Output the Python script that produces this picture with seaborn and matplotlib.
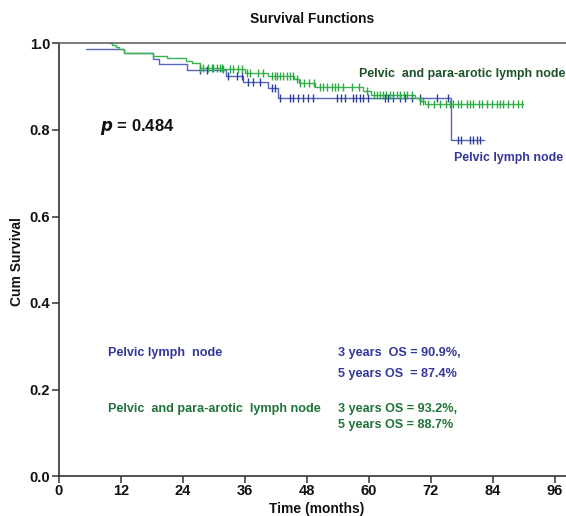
import numpy as np
import pandas as pd
import matplotlib
matplotlib.use("Agg")
import matplotlib.pyplot as plt
import seaborn as sns

# ---- data ----
pelvic_t = [5.3, 12.6, 18.3, 19.4, 24.9, 32.3, 35.7, 40.5, 42.5, 75.8, 82.2]
pelvic_s = [0.988, 0.978, 0.964, 0.952, 0.939, 0.924, 0.910, 0.896, 0.875, 0.778, 0.778]
pelvic_cens = [27.3, 28.6, 32.8, 34.4, 35.4, 36.7, 37.6, 38.9, 41.2, 41.8,
               42.8, 44.7, 45.3, 46.3, 47.3, 48.2, 49.2, 53.8, 54.7, 55.4,
               57.0, 57.6, 58.3, 58.9, 59.8, 63.1, 63.7, 64.7, 66.0, 67.0,
               68.3, 69.9, 73.1, 75.3, 77.3, 77.9, 79.6, 80.2, 80.9, 81.5]

para_t = [9.9, 10.4, 11.0, 11.6, 12.6, 18.3, 20.9, 24.6, 25.7, 27.4, 31.8,
          36.0, 40.5, 45.5, 46.5, 49.5, 58.8, 60.5, 69.0, 69.8, 70.8, 89.9]
para_s = [1.0, 0.996, 0.992, 0.988, 0.978, 0.971, 0.966, 0.960, 0.955, 0.944, 0.940,
          0.932, 0.924, 0.917, 0.908, 0.900, 0.891, 0.882, 0.874, 0.867, 0.861, 0.861]
para_cens = [27.4, 28.0, 28.9, 29.6, 29.9, 30.6, 31.2, 31.5, 31.8, 33.1, 33.8,
             34.7, 35.4, 36.4, 37.0, 38.6, 39.6, 41.2, 41.8, 42.2, 42.8, 43.4,
             44.1, 44.7, 45.4, 46.0, 46.7, 47.5, 48.5, 49.3, 50.5, 51.2, 51.8,
             52.8, 53.4, 54.1, 55.0, 56.7, 58.0, 59.6, 60.9, 61.5, 62.1, 62.8,
             63.4, 64.1, 64.7, 65.4, 66.0, 66.7, 67.3, 68.3, 69.9, 70.5, 71.5,
             72.5, 73.8, 75.0, 75.7, 76.3, 77.3, 77.9, 78.9, 79.6, 80.2, 81.2,
             81.8, 82.8, 83.8, 84.7, 85.4, 86.0, 87.0, 87.9, 88.9, 89.6]

x_ticks = [0, 12, 24, 36, 48, 60, 72, 84, 96]
y_ticks = [0.0, 0.2, 0.4, 0.6, 0.8, 1.0]

BLUE_LINE = "#5565b8"
BLUE_MARK = "#2e3c9c"
GREEN_LINE = "#38b54c"
GREEN_MARK = "#2aa845"
BLUE_TEXT = "#34379a"
GREEN_TEXT = "#1f7438"
GREEN_TEXT_TOP = "#1d5229"

sns.set_theme(style="white")
plt.rcParams["font.family"] = ["Liberation Sans", "DejaVu Sans"]

W, H = 566, 516
fig = plt.figure(figsize=(W / 100, H / 100), dpi=100)
x0, y0, y1 = 58.7, 476.0, 43.5
ax = fig.add_axes([x0 / W, (H - y0) / H, 1 - x0 / W, (y0 - y1) / H])
px_per_month = 5.17
ax.set_xlim(0, (W - x0) / px_per_month)
ax.set_ylim(0, 1.0)


def step_lookup(times, surv, t):
    idx = np.searchsorted(np.asarray(times), np.asarray(t), side="right") - 1
    return np.asarray(surv)[np.clip(idx, 0, len(surv) - 1)]


curves = pd.concat([
    pd.DataFrame({"t": pelvic_t, "s": pelvic_s, "g": "Pelvic"}),
    pd.DataFrame({"t": para_t, "s": para_s, "g": "Para"}),
])
cens = pd.concat([
    pd.DataFrame({"t": pelvic_cens, "s": step_lookup(pelvic_t, pelvic_s, pelvic_cens), "g": "Pelvic"}),
    pd.DataFrame({"t": para_cens, "s": step_lookup(para_t, para_s, para_cens), "g": "Para"}),
])

for g, col in [("Pelvic", BLUE_LINE), ("Para", GREEN_LINE)]:
    sub = curves[curves.g == g]
    sns.lineplot(data=sub, x="t", y="s", ax=ax, estimator=None, sort=False,
                 drawstyle="steps-post", color=col, linewidth=1.0, legend=False)
for g, col in [("Pelvic", BLUE_MARK), ("Para", GREEN_MARK)]:
    sub = cens[cens.g == g]
    ax.plot(sub.t, sub.s, linestyle="none", marker="|", markersize=6,
            markeredgewidth=1.0, color=col)

# axes styling
for side in ["left", "bottom"]:
    ax.spines[side].set_color("#333333")
    ax.spines[side].set_linewidth(1.2)
ax.spines["top"].set_color("#666666")
ax.spines["top"].set_linewidth(1.2)
ax.spines["right"].set_visible(False)
ax.set_xticks(x_ticks)
ax.set_yticks(y_ticks)
ax.set_yticklabels([f"{v:.1f}" for v in y_ticks])
ax.tick_params(axis="both", which="major", direction="out", length=5, width=1.1,
               color="#333333", labelsize=10.5, labelcolor="#111111", pad=1,
               bottom=True, left=True)
for lab in ax.get_xticklabels() + ax.get_yticklabels():
    lab.set_fontweight("bold")
ax.set_xlabel("")
ax.set_ylabel("")
ax.grid(False)

fig.text(312 / W, 1 - 19 / H, "Survival Functions", ha="center", va="center",
         fontsize=10, fontweight="bold", color="#111111")
fig.text(317 / W, 1 - 509 / H, "Time (months)", ha="center", va="center",
         fontsize=10, fontweight="bold", color="#111111")
fig.text(17 / W, 1 - 262 / H, "Cum Survival", ha="center", va="center",
         rotation=90, fontsize=10, fontweight="bold", color="#111111")


def fx(px):
    return px / W


def fy(py):
    return 1 - py / H


fs = 9.1
fig.text(fx(100), fy(127), r"$\bfit{p}$" + " = 0.484", ha="left", va="center",
         fontsize=12, fontweight="bold", color="#111111")
fig.text(fx(359), fy(74), "Pelvic  and para-arotic lymph node", ha="left", va="center",
         fontsize=8.9, fontweight="bold", color=GREEN_TEXT_TOP)
fig.text(fx(454), fy(158), "Pelvic lymph node", ha="left", va="center",
         fontsize=8.9, fontweight="bold", color=BLUE_TEXT)

fig.text(fx(108), fy(353), "Pelvic lymph  node", ha="left", va="center",
         fontsize=fs, fontweight="bold", color=BLUE_TEXT)
fig.text(fx(338), fy(353), "3 years  OS = 90.9%,", ha="left", va="center",
         fontsize=fs, fontweight="bold", color=BLUE_TEXT)
fig.text(fx(338), fy(374), "5 years OS  = 87.4%", ha="left", va="center",
         fontsize=fs, fontweight="bold", color=BLUE_TEXT)
fig.text(fx(108), fy(409), "Pelvic  and para-arotic  lymph node", ha="left", va="center",
         fontsize=fs, fontweight="bold", color=GREEN_TEXT)
fig.text(fx(338), fy(409), "3 years OS = 93.2%,", ha="left", va="center",
         fontsize=fs, fontweight="bold", color=GREEN_TEXT)
fig.text(fx(338), fy(425), "5 years OS = 88.7%", ha="left", va="center",
         fontsize=fs, fontweight="bold", color=GREEN_TEXT)

fig.savefig("out.png", dpi=100)
